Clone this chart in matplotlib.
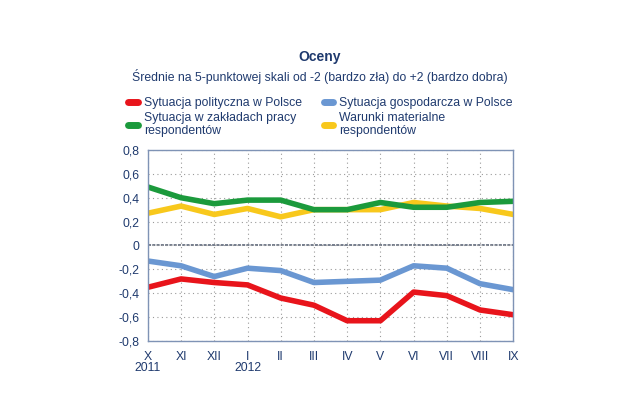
import matplotlib
matplotlib.use("Agg")
import matplotlib.pyplot as plt

plt.rcParams['font.family'] = ['Liberation Sans', 'DejaVu Sans']

months = ['X', 'XI', 'XII', 'I', 'II', 'III', 'IV', 'V', 'VI', 'VII', 'VIII', 'IX']
years = {0: '2011', 3: '2012'}

polityczna = [-0.35, -0.28, -0.31, -0.33, -0.44, -0.50, -0.63, -0.63, -0.39, -0.42, -0.54, -0.58]
gospodarcza = [-0.13, -0.17, -0.26, -0.19, -0.21, -0.31, -0.30, -0.29, -0.17, -0.19, -0.32, -0.37]
zaklady = [0.49, 0.40, 0.35, 0.38, 0.38, 0.30, 0.30, 0.36, 0.32, 0.32, 0.36, 0.37]
warunki = [0.27, 0.33, 0.26, 0.31, 0.24, 0.30, 0.30, 0.30, 0.36, 0.33, 0.31, 0.26]

text_col = '#1f3a6e'
frame_col = '#7f93b5'
fs = 8.8

fig = plt.figure(figsize=(6.4, 4.2), dpi=100)
ax = fig.add_axes([0.231, 0.188, 0.571, 0.455])

x = range(len(months))
lw = 4
l_y, = ax.plot(x, warunki, color='#f8c81c', lw=lw, label='Warunki materialne\nrespondentów')
l_g, = ax.plot(x, zaklady, color='#1b9a3c', lw=lw, label='Sytuacja w zakładach pracy\nrespondentów')
l_b, = ax.plot(x, gospodarcza, color='#6a97d2', lw=lw, label='Sytuacja gospodarcza w Polsce')
l_r, = ax.plot(x, polityczna, color='#e8141b', lw=lw, label='Sytuacja polityczna w Polsce')

ax.set_xlim(0, len(months) - 1)
ax.set_ylim(-0.8, 0.8)
ax.set_yticks([-0.8, -0.6, -0.4, -0.2, 0, 0.2, 0.4, 0.6, 0.8])
ax.set_yticklabels(['-0,8', '-0,6', '-0,4', '-0,2', '0', '0,2', '0,4', '0,6', '0,8'])
ax.set_xticks(list(x))
ax.set_xticklabels(months)
ax.tick_params(colors=text_col, labelsize=fs, length=0)
ax.tick_params(axis='x', pad=7)
ax.tick_params(axis='y', pad=6)
ax.grid(True, color='#9a9a9a', linestyle=(0, (1, 3)), linewidth=0.8)
ax.axhline(0, color='#505a6e', lw=1.1, linestyle=(0, (2, 0.8)), zorder=1)
for s in ax.spines.values():
    s.set_color(frame_col)
    s.set_linewidth(1)

for i, yr in years.items():
    ax.text(i, -0.14, yr, ha='center', va='center', fontsize=fs, color=text_col,
            transform=ax.get_xaxis_transform())

fig.text(0.5, 0.864, 'Oceny', ha='center', va='center', fontsize=10,
         fontweight='bold', color=text_col)
fig.text(0.5, 0.817, 'Średnie na 5-punktowej skali od -2 (bardzo zła) do +2 (bardzo dobra)',
         ha='center', va='center', fontsize=fs, color=text_col)

leg = fig.legend([l_r, l_g, l_b, l_y],
                 [l_r.get_label(), l_g.get_label(), l_b.get_label(), l_y.get_label()],
                 ncol=2, loc='upper left', bbox_to_anchor=(0.191, 0.783),
                 frameon=False, fontsize=fs, handlelength=0.8, handletextpad=0.45,
                 columnspacing=1.8, labelspacing=0.2, borderpad=0)
for h in leg.legend_handles:
    h.set_linewidth(5)
    h.set_solid_capstyle('round')
for t in leg.get_texts():
    t.set_color(text_col)

fig.savefig('out.png', dpi=100)
